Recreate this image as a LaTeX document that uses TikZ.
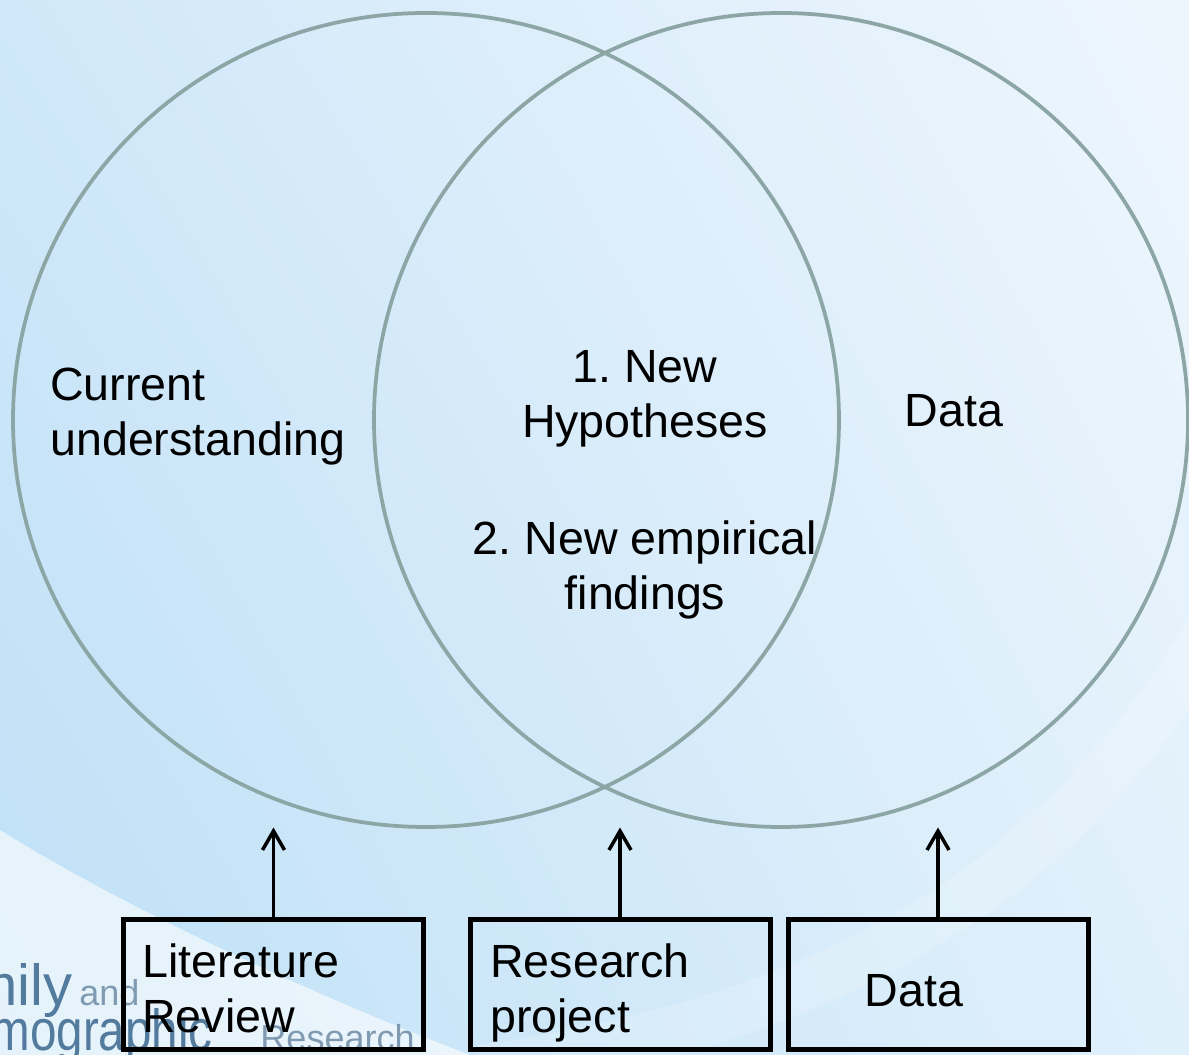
\documentclass[tikz,border=0pt]{standalone}
\usepackage{fontspec}
\setmainfont{Liberation Sans}
\usetikzlibrary{arrows.meta}
\usetikzlibrary{positioning}
\usetikzlibrary{shadings}

\definecolor{bgul}{RGB}{208,232,249}
\definecolor{bgur}{RGB}{238,246,253}
\definecolor{bgll}{RGB}{190,224,246}
\definecolor{bglr}{RGB}{224,240,251}
\definecolor{ringcol}{RGB}{140,166,166}
\definecolor{logocol}{RGB}{58,102,142}
\definecolor{logolite}{RGB}{110,140,165}

\tikzset{
  ring/.style={draw=ringcol,line width=0.075cm},
  srcbox/.style={draw=black,line width=0.1cm,minimum width=6cm,minimum height=2.6cm,inner sep=0pt},
  lbl/.style={font=\fontsize{26.5}{31.3}\selectfont,inner sep=0pt},
  feed/.style={line width=0.07cm,-{Straight Barb[length=0.38cm,width=0.44cm]}},
  logo/.style={text=logocol,opacity=0.85,inner sep=0pt,anchor=base east}
}

\begin{document}
\frenchspacing
\begin{tikzpicture}
\useasboundingbox (0,0) rectangle (23.78,21.1);
\clip (0,0) rectangle (23.78,21.1);
\shade[upper left=bgul,upper right=bgur,lower left=bgll,lower right=bglr] (0,0) rectangle (23.78,21.1);
\fill[white,opacity=0.6] (0,4.5) .. controls (2.4,3.0) and (6.0,1.3) .. (9.4,0) -- (0,0) -- cycle;
\draw[white,opacity=0.18,line width=1.0cm] (9.6,-0.3) .. controls (16,0.6) and (21,3) .. (24.2,8.5);

\node[logo,font=\fontsize{33}{36}\selectfont] (logofam) at (1.46,0.99) {Family};
\node[logo,text=logolite,font=\fontsize{20.5}{24}\selectfont,anchor=base west] (logoand) at (1.58,0.99) {and};
\node[logo,font=\fontsize{33}{36}\selectfont,xscale=0.82,transform shape] (logodemo) at (4.26,0.08) {Demographic};
\node[logo,text=logolite,font=\fontsize{20.5}{24}\selectfont] (logores) at (8.30,0.08) {Research};

\draw[ring] (8.52,12.70) ellipse [x radius=8.26, y radius=8.14];
\draw[ring] (15.62,12.70) ellipse [x radius=8.14, y radius=8.14];

\node[lbl,align=left,anchor=base west] (current) at (1.00,11.98) {Current\\understanding};
\node[lbl,align=center,anchor=base] (overlap) at (12.90,8.90) {1. New\\Hypotheses\\[1.24cm]2. New empirical\\findings};
\node[lbl,anchor=base] (datatext) at (19.08,12.56) {Data};

\node[srcbox] (litbox) at (5.47,1.40) {};
\node[srcbox] (resbox) at (12.40,1.40) {};
\node[srcbox] (databox) at (18.76,1.40) {};

\node[lbl,align=left,anchor=base west] (littext) at (2.84,0.44) {Literature\\Review};
\node[lbl,align=left,anchor=base west] (restext) at (9.80,0.44) {Research\\project};
\node[lbl,anchor=base] (datalabel) at (18.28,0.96) {Data};

\coordinate[above=1.8cm of litbox.north] (littip);
\coordinate[above=1.8cm of resbox.north] (restip);
\coordinate[above=1.8cm of databox.north] (datatip);
\draw[feed] (litbox.north) -- (littip);
\draw[feed] (resbox.north) -- (restip);
\draw[feed] (databox.north) -- (datatip);
\end{tikzpicture}
\end{document}
